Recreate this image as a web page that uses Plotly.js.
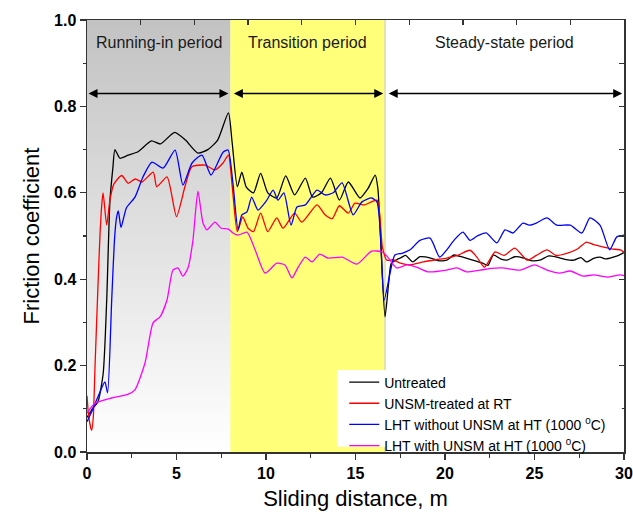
<!DOCTYPE html>
<html>
<head>
<meta charset="utf-8">
<script src="https://cdn.plot.ly/plotly-3.0.1.min.js"></script>
<style>
  html, body { margin: 0; padding: 0; background: #ffffff; }
  #chart { width: 633px; height: 522px; }
</style>
</head>
<body>
<div id="chart"></div>
<script>
// Friction coefficient vs sliding distance for four surface conditions.

// Period boundaries along the sliding distance (m) and their labels
const periodBounds = [0, 8, 16.65, 30];
const periodLabels = ["Running-in period", "Transition period", "Steady-state period"];

// Series names
const seriesNames = [
  "Untreated",
  "UNSM-treated at RT",
  "LHT without UNSM at HT (1000 <sup>0</sup>C)",
  "LHT with UNSM at HT (1000 <sup>0</sup>C)"
];

// Untreated
const xUntreated = [0, 0.3, 0.6, 0.9, 1.1, 1.28, 1.45, 1.56, 1.84, 2.3, 2.85, 3.6, 4.1, 4.9, 5.5, 6.2, 6.75, 7.3, 7.9,
  8.1, 8.4, 8.65, 8.9, 9.3, 9.7, 10.1, 10.6, 11.1, 11.6, 12.2, 12.6, 13.1, 13.6, 14.1, 14.6, 15.25, 15.7, 16.1, 16.25,
  16.45, 16.65, 16.85, 17.0, 17.3, 17.5, 17.8, 18.2, 18.6, 19.2, 19.6, 20.1, 20.5, 21.0, 21.5, 22.1, 22.4, 22.7, 23.1,
  23.45, 23.9, 24.4, 24.8, 25.3, 25.8, 26.25, 26.7, 27.2, 27.6, 27.9, 28.3, 28.66, 29.0, 29.4, 29.7, 30];
const yUntreated = [0.08, 0.1, 0.115, 0.18, 0.35, 0.58, 0.66, 0.70, 0.68, 0.687, 0.695, 0.72, 0.713, 0.74, 0.722, 0.692, 0.70, 0.722, 0.785,
  0.72, 0.614, 0.648, 0.613, 0.60, 0.645, 0.60, 0.588, 0.639, 0.595, 0.634, 0.59, 0.60, 0.634, 0.583, 0.625, 0.588, 0.61, 0.641, 0.61,
  0.45, 0.313, 0.39, 0.437, 0.445, 0.449, 0.455, 0.44, 0.452, 0.449, 0.443, 0.444, 0.456, 0.451, 0.445, 0.437, 0.432, 0.456, 0.447,
  0.444, 0.452, 0.449, 0.443, 0.444, 0.454, 0.451, 0.446, 0.444, 0.45, 0.44, 0.448, 0.451, 0.447, 0.451, 0.455, 0.462];

// UNSM-treated at RT
const xUnsmRT = [0, 0.1, 0.26, 0.35, 0.45, 0.6, 0.73, 0.84, 0.9, 1.1, 1.28, 1.5, 1.94, 2.3, 2.7, 3.07, 3.7, 3.9, 4.47, 5.0, 5.47, 5.85,
  6.6, 7.15, 7.6, 7.9, 8.1, 8.4, 8.7, 9.0, 9.3, 9.7, 10.1, 10.6, 10.95, 11.6, 12.0, 12.85, 13.3, 13.7, 14.1, 14.6, 14.97, 15.5,
  16.2, 16.5, 16.75, 17.1, 17.5, 18.05, 18.8, 19.5, 20.1, 20.7, 21.4, 21.8, 22.2, 22.8, 23.3, 23.9, 24.6, 25.1, 25.7, 26.2, 26.8,
  27.4, 27.9, 28.3, 28.8, 29.3, 29.8, 30];
const yUnsmRT = [0.13, 0.08, 0.05, 0.08, 0.2, 0.37, 0.507, 0.58, 0.6, 0.525, 0.583, 0.62, 0.64, 0.622, 0.632, 0.625, 0.648, 0.614, 0.637, 0.545, 0.614, 0.66,
  0.664, 0.653, 0.669, 0.687, 0.62, 0.51, 0.544, 0.518, 0.51, 0.553, 0.51, 0.542, 0.518, 0.553, 0.532, 0.572, 0.549, 0.54, 0.57, 0.553, 0.576, 0.572,
  0.583, 0.475, 0.444, 0.445, 0.437, 0.433, 0.44, 0.445, 0.449, 0.455, 0.467, 0.45, 0.428, 0.463, 0.455, 0.472, 0.444, 0.455, 0.468, 0.455, 0.46,
  0.47, 0.486, 0.48, 0.475, 0.47, 0.468, 0.462];

// LHT without UNSM at HT
const xLhtOnly = [0, 0.26, 0.6, 1.0, 1.15, 1.38, 1.55, 1.66, 1.75, 1.9, 2.2, 2.68, 3.13, 3.63, 4.25, 4.92, 5.36, 5.87, 6.42, 6.93, 7.6, 7.88,
  8.15, 8.44, 8.65, 8.94, 9.2, 9.55, 10.0, 10.4, 10.67, 11.0, 11.4, 11.73, 12.2, 12.85, 13.3, 13.75, 14.25, 14.87, 15.36, 15.9, 16.2,
  16.4, 16.6, 16.93, 17.2, 17.6, 18.05, 18.6, 19.17, 19.7, 20.1, 20.5, 21.0, 21.4, 21.8, 22.3, 22.9, 23.35, 23.8, 24.35, 24.7, 25.1,
  25.7, 26.25, 27.0, 27.65, 28.1, 28.66, 29.2, 29.6, 30];
const yLhtOnly = [0.07, 0.093, 0.127, 0.162, 0.137, 0.352, 0.5, 0.545, 0.558, 0.52, 0.565, 0.59, 0.637, 0.671, 0.657, 0.699, 0.618, 0.669, 0.687, 0.641, 0.694, 0.699,
  0.623, 0.514, 0.549, 0.556, 0.59, 0.56, 0.58, 0.606, 0.583, 0.6, 0.525, 0.567, 0.572, 0.606, 0.595, 0.6, 0.623, 0.549, 0.579, 0.588, 0.579,
  0.5, 0.352, 0.414, 0.456, 0.46, 0.468, 0.49, 0.495, 0.451, 0.468, 0.49, 0.509, 0.49, 0.5, 0.507, 0.484, 0.514, 0.507, 0.53, 0.525, 0.53,
  0.542, 0.525, 0.525, 0.507, 0.542, 0.525, 0.468, 0.498, 0.502];

// LHT with UNSM at HT
const xLhtUnsm = [0, 0.45, 1.38, 2.3, 2.68, 3.24, 3.69, 4.08, 4.47, 4.8, 5.08, 5.36, 5.64, 5.92, 6.05, 6.2, 6.48, 6.7, 6.87, 7.15, 7.5, 7.9,
  8.15, 8.44, 8.94, 9.39, 9.95, 10.6, 11.06, 11.45, 11.8, 12.2, 12.57, 13.0, 13.46, 14.25, 15.08, 15.9, 16.5, 16.8, 17.3, 17.87, 18.4,
  19.05, 20.1, 20.67, 21.2, 21.95, 22.6, 23.2, 24.2, 25.0, 25.7, 26.4, 27.0, 27.7, 28.3, 29.05, 29.8, 30];
const yLhtUnsm = [0.09, 0.113, 0.125, 0.134, 0.144, 0.206, 0.299, 0.313, 0.352, 0.421, 0.426, 0.407, 0.426, 0.491, 0.55, 0.604, 0.53, 0.514, 0.521, 0.532, 0.518, 0.516,
  0.507, 0.502, 0.509, 0.468, 0.414, 0.437, 0.433, 0.403, 0.428, 0.451, 0.44, 0.458, 0.449, 0.451, 0.435, 0.465, 0.463, 0.451, 0.426, 0.433, 0.428,
  0.417, 0.421, 0.426, 0.417, 0.421, 0.425, 0.426, 0.421, 0.433, 0.421, 0.414, 0.419, 0.407, 0.41, 0.405, 0.41, 0.408];

const seriesX = [xUntreated, xUnsmRT, xLhtOnly, xLhtUnsm];
const seriesY = [yUntreated, yUnsmRT, yLhtOnly, yLhtUnsm];
const seriesColors = ["#000000", "#ff0000", "#0000ff", "#ff00ff"];

const yMin = 0, yMax = 1.0;
const arrowLevel = 0.83;
const fontFamily = "Arial, Liberation Sans, sans-serif";

// Running-in band: grey vertical gradient, lighter towards the bottom
const runIn = {
  x: [periodBounds[0], periodBounds[1], periodBounds[1], periodBounds[0], periodBounds[0]],
  y: [yMin, yMin, yMax, yMax, yMin],
  mode: "none",
  fill: "toself",
  fillgradient: {
    type: "vertical",
    start: yMin,
    stop: yMax,
    colorscale: [[0, "#ffffff"], [0.55, "#dedede"], [1, "#c2c2c2"]]
  },
  hoverinfo: "skip",
  showlegend: false
};

const traces = [runIn];
for (let i = 0; i < seriesNames.length; i++) {
  traces.push({
    x: seriesX[i],
    y: seriesY[i],
    name: seriesNames[i],
    mode: "lines",
    line: { color: seriesColors[i], width: 1.3, shape: "spline", smoothing: 0.6 }
  });
}
// empty traces that anchor the mirrored tick axes (top and right)
traces.push({ x: [], y: [], xaxis: "x2", yaxis: "y2", showlegend: false, hoverinfo: "skip" });

const shapes = [
  {
    type: "rect", layer: "below", xref: "x", yref: "y",
    x0: periodBounds[1], x1: periodBounds[2], y0: yMin, y1: yMax,
    fillcolor: "#ffff7a", line: { width: 0 }
  },
  {
    type: "line", layer: "below", xref: "x", yref: "y",
    x0: periodBounds[2], x1: periodBounds[2], y0: yMin, y1: yMax,
    line: { color: "#d8d8c0", width: 1.5 }
  },
  // white backing panel of the legend
  {
    type: "rect", layer: "above", xref: "paper", yref: "paper",
    x0: 0.4655, x1: 0.996, y0: 0.012, y1: 0.19,
    fillcolor: "#ffffff", line: { width: 0 }
  }
];

const annotations = [];
for (let i = 0; i < periodLabels.length; i++) {
  const a = periodBounds[i], b = periodBounds[i + 1];
  annotations.push({
    x: (a + b) / 2, y: 0.947, xref: "x", yref: "y",
    text: periodLabels[i], showarrow: false,
    font: { family: fontFamily, size: 16, color: "#1a1a1a" }
  });
  // double-headed arrow spanning the period
  const gap = i === 0 ? 0 : 0.12;
  annotations.push({
    x: b - 0.1, y: arrowLevel, ax: a + gap, ay: arrowLevel,
    xref: "x", yref: "y", axref: "x", ayref: "y",
    text: "", showarrow: true, arrowside: "end+start",
    arrowhead: 2, arrowsize: 1.2, arrowwidth: 1.5, arrowcolor: "#000000",
    standoff: 0, startstandoff: 0
  });
}

const axisFont = { family: fontFamily, size: 16, color: "#000000", weight: "bold" };
const titleFont = { family: fontFamily, size: 22, color: "#000000" };

const layout = {
  width: 633, height: 522,
  margin: { l: 87, r: 9, t: 20, b: 70 },
  paper_bgcolor: "#ffffff",
  plot_bgcolor: "#ffffff",
  showlegend: true,
  legend: {
    x: 0.479, y: 0.198, xanchor: "left", yanchor: "top",
    bgcolor: "rgba(0,0,0,0)", borderwidth: 0,
    font: { family: fontFamily, size: 14, color: "#000000" },
    tracegroupgap: 0, itemwidth: 30
  },
  xaxis: {
    range: [0, 30], dtick: 5, tick0: 0,
    ticks: "outside", ticklen: 6, tickwidth: 1.3, tickcolor: "#333333",
    minor: { dtick: 2.5, ticks: "outside", ticklen: 4, tickwidth: 1.2, tickcolor: "#333333" },
    showline: true, linecolor: "#333333", linewidth: 1.5, mirror: true,
    showgrid: false, zeroline: false,
    tickfont: axisFont,
    title: { text: "Sliding distance, m", font: titleFont, standoff: 10 }
  },
  yaxis: {
    range: [yMin, yMax], dtick: 0.2, tick0: 0, tickformat: ".1f",
    ticks: "outside", ticklen: 6, tickwidth: 1.3, tickcolor: "#333333",
    minor: { dtick: 0.1, ticks: "outside", ticklen: 3, tickwidth: 1.2, tickcolor: "#333333" },
    showline: true, linecolor: "#333333", linewidth: 1.5, mirror: true,
    showgrid: false, zeroline: false,
    tickfont: axisFont,
    title: { text: "Friction coefficient", font: titleFont, standoff: 8 }
  },
  xaxis2: {
    overlaying: "x", side: "top", range: [0, 30], dtick: 3, tick0: 0,
    ticks: "inside", ticklen: 5, tickwidth: 1.3, tickcolor: "#333333",
    showticklabels: false, showline: false, showgrid: false, zeroline: false
  },
  yaxis2: {
    overlaying: "y", side: "right", range: [yMin, yMax], dtick: 0.1, tick0: 0,
    ticks: "inside", ticklen: 5, tickwidth: 1.3, tickcolor: "#333333",
    showticklabels: false, showline: false, showgrid: false, zeroline: false
  },
  shapes: shapes,
  annotations: annotations
};

Plotly.newPlot("chart", traces, layout, { displayModeBar: false, staticPlot: true });
</script>
</body>
</html>
